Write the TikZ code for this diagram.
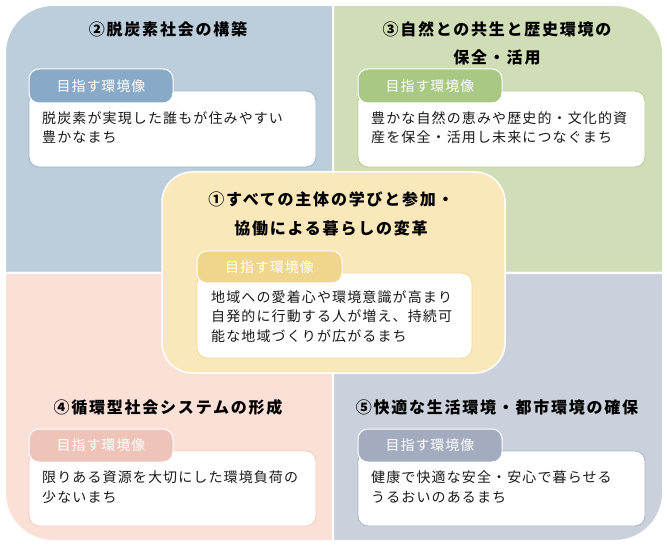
\documentclass[tikz,border=0pt]{standalone}
\usepackage{fontspec}
\setmainfont{Noto Sans CJK JP}
\newfontfamily\bodyfont[LetterSpace=8]{Noto Sans CJK JP}
\newfontfamily\titlefont[LetterSpace=11]{Noto Sans CJK JP}
\newfontfamily\tabfont[LetterSpace=7]{Noto Sans CJK JP}
\definecolor{qblue}{HTML}{BCCDDB}
\definecolor{qgreen}{HTML}{D1DDB6}
\definecolor{qpink}{HTML}{FBE0D8}
\definecolor{qgray}{HTML}{CBD1DC}
\definecolor{cyellow}{HTML}{FBE8BA}
\definecolor{tblue}{HTML}{88AAC8}
\definecolor{tgreen}{HTML}{A9C883}
\definecolor{tyellow}{HTML}{F0D68C}
\definecolor{tpink}{HTML}{EFC4B8}
\definecolor{tgray}{HTML}{A3ABBF}
\definecolor{bblue}{HTML}{9DB8D1}
\definecolor{bgreen}{HTML}{B6CF95}
\definecolor{byellow}{HTML}{F2DA95}
\definecolor{bpink}{HTML}{F3CBC0}
\definecolor{bgray}{HTML}{ADB5C8}
\definecolor{ink}{HTML}{1A1A1A}
\tikzset{
  quad/.style={draw=white, line width=2pt},
  wbox/.style={draw, fill=white, line width=0.9pt, rounded corners=10pt, minimum width=287pt, minimum height=76pt, inner sep=0pt},
  tabbox/.style={draw=white, line width=1pt, rounded corners=10pt, minimum width=144pt, minimum height=34pt, inner sep=0pt, text=white, font=\tabfont\fontsize{14}{16}\selectfont},
  body/.style={anchor=north west, align=left, inner sep=0pt, text=ink, font=\bodyfont\fontsize{14}{19.5}\selectfont},
  title/.style={align=center, inner sep=0pt, text=black, font=\titlefont\bfseries\fontsize{16}{28.5}\selectfont}
}
\begin{document}
\begin{tikzpicture}[x=1pt, y=-1pt]
\useasboundingbox (0,0) rectangle (667,548);
% quadrants
\path[quad, fill=qblue] (5,150) [rounded corners=48pt] -- (5,5) -- (150,5) [sharp corners] -- (333,5) -- (333,273) -- (5,273) -- cycle;
\path[quad, fill=qgreen] (333,5) -- (500,5) [rounded corners=48pt] -- (663,5) -- (663,150) [sharp corners] -- (663,273) -- (333,273) -- cycle;
\path[quad, fill=qpink] (5,273) -- (333,273) -- (333,541) -- (150,541) [rounded corners=48pt] -- (5,541) -- (5,400) [sharp corners] -- cycle;
\path[quad, fill=qgray] (333,273) -- (663,273) -- (663,400) [rounded corners=48pt] -- (663,541) -- (500,541) [sharp corners] -- (333,541) -- cycle;
% center box
\node[draw=white, line width=1.5pt, fill=cyellow, rounded corners=30pt, minimum width=343pt, minimum height=201pt, inner sep=0pt] (center) at (333.5,272.5) {};

% titles
\node[title] (t2) at (168,29) {②脱炭素社会の構築};
\node[title] (t3) at (497,43.5) {③自然との共生と歴史環境の\\保全・活用};
\node[title] (t1) at (331,214) {①すべての主体の学びと参加・\\協働による暮らしの変革};
\node[title] (t4) at (168,407) {④循環型社会システムの形成};
\node[title] (t5) at (497,407) {⑤快適な生活環境・都市環境の確保};

% white boxes
\node[wbox, draw=bblue] (w2) at (172.5,129) {};
\node[wbox, draw=bgreen] (w3) at (501.5,129) {};
\node[wbox, draw=byellow, minimum width=275pt, minimum height=85pt] (w1) at (334.5,315.5) {};
\node[wbox, draw=bpink, minimum height=75pt] (w4) at (172.5,488.5) {};
\node[wbox, draw=bgray, minimum height=75pt] (w5) at (501.5,488.5) {};

% tabs
\node[tabbox, fill=tblue] (g2) at (101,86) {目指す環境像};
\node[tabbox, fill=tgreen] (g3) at (430,86) {目指す環境像};
\node[tabbox, fill=tyellow, minimum width=145pt, minimum height=32pt] (g1) at (269.5,267) {目指す環境像};
\node[tabbox, fill=tpink, minimum height=33pt] (g4) at (101,445.5) {目指す環境像};
\node[tabbox, fill=tgray, minimum height=33pt] (g5) at (430,445.5) {目指す環境像};

% body texts
\node[body] (x2) at (42,111) {脱炭素が実現した誰もが住みやすい\\豊かなまち};
\node[body] (x3) at (371,111) {豊かな自然の恵みや歴史的・文化的資\\産を保全・活用し未来につなぐまち};
\node[body] (x1) at (211,290) {地域への愛着心や環境意識が高まり\\自発的に行動する人が増え、持続可\\能な地域づくりが広がるまち};
\node[body] (x4) at (42,471) {限りある資源を大切にした環境負荷の\\少ないまち};
\node[body] (x5) at (371,471) {健康で快適な安全・安心で暮らせる\\うるおいのあるまち};
\end{tikzpicture}
\end{document}
